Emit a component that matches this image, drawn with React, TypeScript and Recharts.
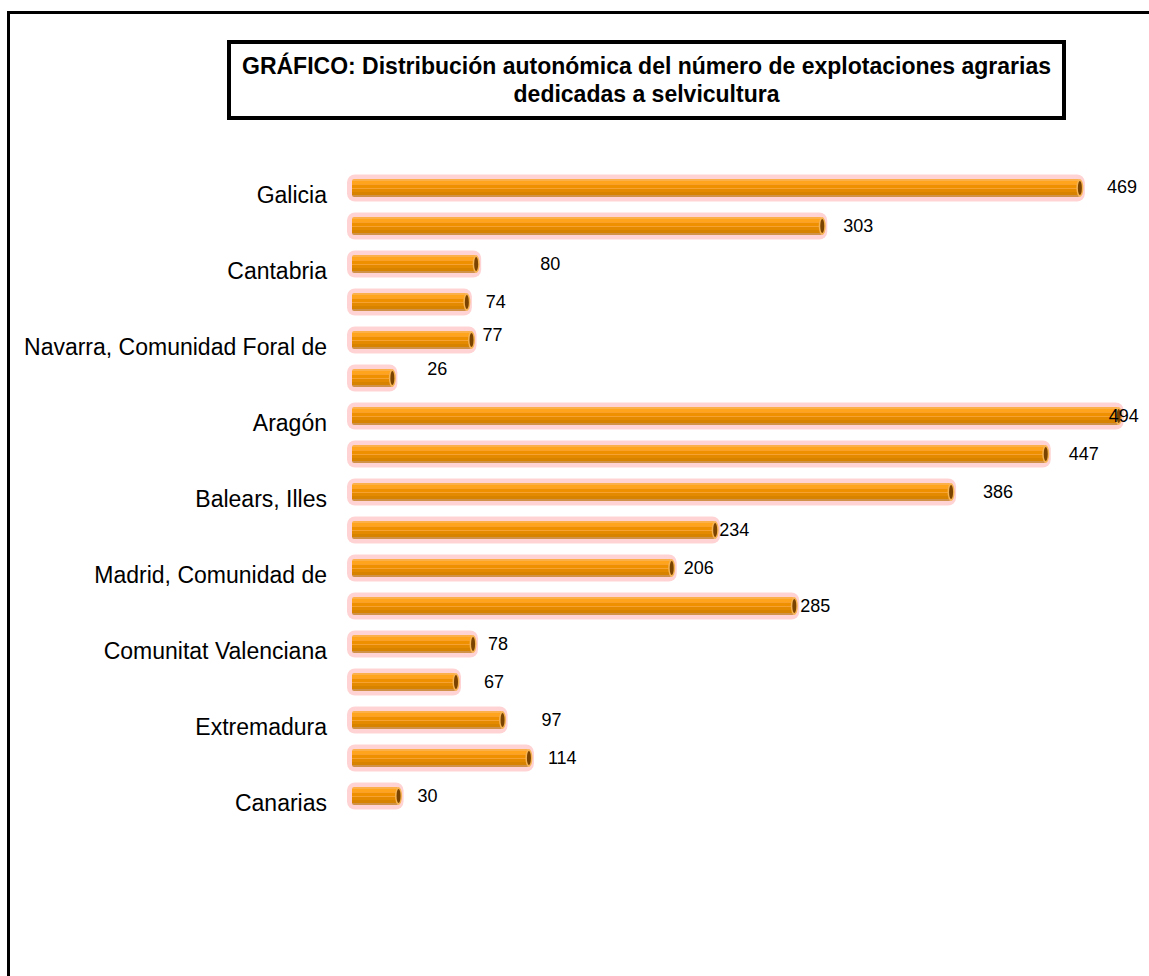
import { Bar, BarChart, LabelList, XAxis, YAxis } from "recharts";

const regions = [
  "Galicia",
  "Asturias, Principado de",
  "Cantabria",
  "País Vasco",
  "Navarra, Comunidad Foral de",
  "Rioja, La",
  "Aragón",
  "Cataluña",
  "Balears, Illes",
  "Castilla y León",
  "Madrid, Comunidad de",
  "Castilla - La Mancha",
  "Comunitat Valenciana",
  "Murcia, Región de",
  "Extremadura",
  "Andalucía",
  "Canarias",
];

const farms = [469, 303, 80, 74, 77, 26, 494, 447, 386, 234, 206, 285, 78, 67, 97, 114, 30];

// the source places its value labels unevenly, nudge them the same way
const labelDx = [22, 16, 59, 14, 6, 30, -15, 18, 27, -1, 7, 1, 10, 23, 34, 14, 14];
const labelDy = [-1, 0, 0, 0, -5, -9, 0, 0, 0, 0, 0, 0, 0, 0, 0, 0, 0];

const rows = regions.map((region, i) => ({ region, farms: farms[i] }));

const FONT = "'Liberation Sans', Arial, Helvetica, sans-serif";

function Tube(props: any) {
  const { x, y, width, height } = props;
  if (!width || width <= 0) return null;
  const end = x + width;
  const cy = y + height / 2;
  return (
    <g>
      <rect x={x - 5} y={y - 4.5} width={width + 10} height={height + 9} rx={8} fill="#ffd3d3" />
      <rect x={x} y={y} width={width} height={height} rx={2} fill="url(#tubeStripes)" />
      <ellipse cx={end} cy={cy} rx={3.5} ry={height / 2} fill="#f7b452" />
      <ellipse cx={end} cy={cy} rx={2} ry={height / 2 - 2} fill="#7a4300" />
    </g>
  );
}

function ValueLabel(props: any) {
  const { x, y, width, height, value, index } = props;
  return (
    <text
      x={x + width + 5 + (labelDx[index] ?? 10)}
      y={y + height / 2 + (labelDy[index] ?? 0)}
      dominantBaseline="central"
      fontSize={18}
      fontFamily={FONT}
      fill="#000"
    >
      {value}
    </text>
  );
}

export default function App() {
  return (
    <div
      style={{
        position: "absolute",
        left: 0,
        top: 0,
        width: 1149,
        height: 976,
        overflow: "hidden",
        background: "#fff",
        fontFamily: FONT,
      }}
    >
      <div
        style={{
          position: "absolute",
          left: 7,
          top: 11,
          width: 1400,
          height: 1200,
          borderLeft: "3px solid #000",
          borderTop: "3px solid #000",
        }}
      />
      <div
        style={{
          position: "absolute",
          left: 227,
          top: 40,
          width: 831,
          height: 72,
          border: "4px solid #000",
          display: "flex",
          alignItems: "center",
          justifyContent: "center",
          textAlign: "center",
          fontWeight: "bold",
          fontSize: 23,
          lineHeight: "28px",
          color: "#000",
          background: "#fff",
        }}
      >
        <div>
          GRÁFICO: Distribución autonómica del número de explotaciones agrarias
          <br />
          dedicadas a selvicultura
        </div>
      </div>
      <div style={{ position: "absolute", left: 0, top: 0 }}>
        <BarChart
          width={1149}
          height={976}
          data={rows}
          layout="vertical"
          margin={{ top: 169, right: 21, bottom: 161, left: 0 }}
          barCategoryGap={0}
        >
          <defs>
            <linearGradient id="tubeStripes" x1="0" y1="0" x2="0" y2="1">
              <stop offset="0" stopColor="#fbb04a" />
              <stop offset="0.12" stopColor="#fbb04a" />
              <stop offset="0.12" stopColor="#ffa41c" />
              <stop offset="0.26" stopColor="#ffa41c" />
              <stop offset="0.26" stopColor="#f9a02a" />
              <stop offset="0.36" stopColor="#f9a02a" />
              <stop offset="0.36" stopColor="#ee9000" />
              <stop offset="0.5" stopColor="#ee9000" />
              <stop offset="0.5" stopColor="#f5a233" />
              <stop offset="0.58" stopColor="#f5a233" />
              <stop offset="0.58" stopColor="#e38a00" />
              <stop offset="0.74" stopColor="#e38a00" />
              <stop offset="0.74" stopColor="#d88300" />
              <stop offset="0.88" stopColor="#d88300" />
              <stop offset="0.88" stopColor="#d09248" />
              <stop offset="1" stopColor="#d09248" />
            </linearGradient>
          </defs>
          <XAxis type="number" domain={[0, 500]} hide />
          <YAxis
            type="category"
            dataKey="region"
            width={352}
            interval={1}
            axisLine={false}
            tickLine={false}
            tickSize={0}
            tickMargin={25}
            tick={{ fontSize: 23, fill: "#000", fontFamily: FONT, dy: 7 }}
          />
          <Bar dataKey="farms" barSize={18} shape={<Tube />} isAnimationActive={false}>
            <LabelList dataKey="farms" content={<ValueLabel />} />
          </Bar>
        </BarChart>
      </div>
    </div>
  );
}
